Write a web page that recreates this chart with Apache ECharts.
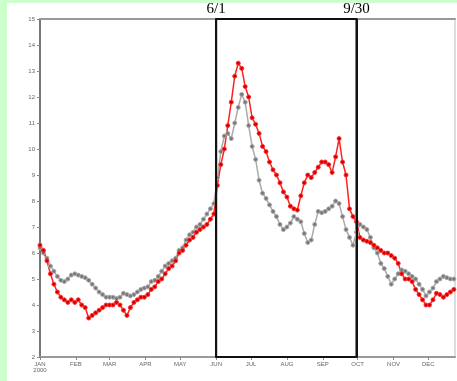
<!DOCTYPE html>
<html>
<head>
<meta charset="utf-8">
<script src="https://cdn.jsdelivr.net/npm/echarts@6/dist/echarts.min.js"></script>
<style>
  html, body { margin: 0; padding: 0; background: #ccffcc; }
  #chart { position: absolute; left: 7px; top: 3px; width: 450px; height: 378px; background: #fff; }
</style>
</head>
<body>
<div id="chart"></div>
<script>
// day of year (2000), sampled every 3 days
var days = [];
for (var d = 0; d <= 357; d += 3) days.push(d);

var monthStarts = [0, 31, 60, 91, 121, 152, 182, 213, 244, 274, 305, 335];
var monthNames = ['JAN\n2000', 'FEB', 'MAR', 'APR', 'MAY', 'JUN', 'JUL', 'AUG', 'SEP', 'OCT', 'NOV', 'DEC'];

var redValues = [
  6.3, 6.1, 5.7, 5.2, 4.8, 4.5, 4.3, 4.2, 4.1, 4.2, 4.1, 4.2, 4.0, 3.9, 3.5, 3.6, 3.7, 3.8, 3.9, 4.0,
  4.0, 4.0, 4.1, 4.0, 3.8, 3.6, 3.9, 4.1, 4.2, 4.3, 4.3, 4.4, 4.6, 4.7, 4.9, 5.0, 5.2, 5.4, 5.5, 5.7,
  6.0, 6.1, 6.3, 6.5, 6.6, 6.8, 6.9, 7.0, 7.1, 7.3, 7.5, 8.6, 9.4, 10.0, 10.9, 11.8, 12.8, 13.3, 13.1, 12.4,
  12.0, 11.2, 10.95, 10.6, 10.1, 9.9, 9.5, 9.2, 9.0, 8.7, 8.35, 8.15, 7.8, 7.7, 7.65, 8.2, 8.7, 9.0, 8.9, 9.1,
  9.3, 9.5, 9.5, 9.4, 9.1, 9.7, 10.4, 9.5, 9.0, 7.7, 7.4, 7.2, 6.6, 6.5, 6.45, 6.4, 6.3, 6.2, 6.1, 6.0,
  6.0, 5.9, 5.8, 5.6, 5.2, 5.0, 5.0, 4.9, 4.6, 4.4, 4.2, 4.0, 4.0, 4.2, 4.45, 4.4, 4.3, 4.4, 4.5, 4.6
];

var grayValues = [
  6.2, 6.0, 5.8, 5.5, 5.3, 5.1, 4.95, 4.9, 5.0, 5.15, 5.2, 5.15, 5.1, 5.05, 4.95, 4.8, 4.65, 4.5, 4.4, 4.3,
  4.3, 4.3, 4.25, 4.3, 4.45, 4.4, 4.35, 4.4, 4.5, 4.6, 4.65, 4.7, 4.9, 4.95, 5.1, 5.3, 5.5, 5.6, 5.7, 5.8,
  6.1, 6.2, 6.5, 6.7, 6.8, 7.0, 7.1, 7.3, 7.5, 7.7, 7.9, 8.9, 9.9, 10.5, 10.6, 10.4, 11.0, 11.6, 12.1, 11.8,
  10.9, 10.1, 9.6, 8.8, 8.3, 8.1, 7.85, 7.6, 7.4, 7.1, 6.9, 7.0, 7.15, 7.4, 7.3, 7.2, 6.75, 6.4, 6.5, 7.1,
  7.6, 7.55, 7.6, 7.7, 7.8, 8.0, 7.9, 7.4, 6.9, 6.6, 6.3, 6.8, 7.1, 7.0, 6.9, 6.6, 6.2, 6.0, 5.6, 5.4,
  5.1, 4.8, 5.0, 5.2, 5.35, 5.3, 5.2, 5.1, 5.0, 4.8, 4.6, 4.35, 4.5, 4.65, 4.9, 5.0, 5.1, 5.05, 5.0, 5.0
];

var boxStart = 152, boxEnd = 273;

function pairs(vals) {
  return days.map(function (d, i) { return [d, vals[i]]; });
}

var myChart = echarts.init(document.getElementById('chart'));
var option = {
  animation: false,
  grid: { left: 33, top: 16, right: 2, bottom: 24, show: true, borderColor: '#bbb', borderWidth: 1 },
  xAxis: [{
    type: 'value', min: 0, max: 358,
    splitLine: { show: false },
    axisLine: { lineStyle: { color: '#999', width: 2 } },
    axisTick: { customValues: monthStarts, length: 3, lineStyle: { color: '#888' } },
    axisLabel: {
      customValues: monthStarts, fontSize: 6, color: '#666', margin: 4, lineHeight: 6,
      formatter: function (v) { return monthNames[monthStarts.indexOf(v)]; }
    }
  }, {
    type: 'value', min: 0, max: 358, position: 'top',
    axisLine: { show: true, lineStyle: { color: '#999', width: 2 } },
    axisTick: { show: false }, axisLabel: { show: false }, splitLine: { show: false }
  }],
  yAxis: {
    type: 'value', min: 2, max: 15, interval: 1,
    splitLine: { show: false },
    axisLine: { show: true, lineStyle: { color: '#777', width: 2 } },
    axisTick: { show: true, length: 3, lineStyle: { color: '#888' } },
    axisLabel: { fontSize: 6, color: '#666', margin: 5 }
  },
  series: [{
    type: 'line', data: pairs(grayValues),
    symbol: 'circle', symbolSize: 4,
    lineStyle: { color: '#aaa', width: 1.5 },
    itemStyle: { color: '#777', borderColor: '#aaa', borderWidth: 1 }
  }, {
    type: 'line', data: pairs(redValues),
    symbol: 'circle', symbolSize: 4,
    lineStyle: { color: '#ff2020', width: 1.5 },
    itemStyle: { color: '#d00000', borderColor: '#ff3030', borderWidth: 1 },
    markArea: {
      silent: true,
      itemStyle: { color: 'rgba(0,0,0,0)', borderColor: '#111', borderWidth: 2 },
      data: [[{ xAxis: boxStart }, { xAxis: boxEnd }]]
    },
    markLine: {
      silent: true, symbol: 'none',
      lineStyle: { color: '#111', width: 2, type: 'solid' },
      label: {
        position: 'end', distance: 2, color: '#000', fontSize: 15,
        fontFamily: 'Liberation Serif', formatter: function (p) { return p.name; }
      },
      data: [{ xAxis: boxStart, name: '6/1' }, { xAxis: boxEnd, name: '9/30' }]
    }
  }]
};
myChart.setOption(option);
</script>
</body>
</html>
